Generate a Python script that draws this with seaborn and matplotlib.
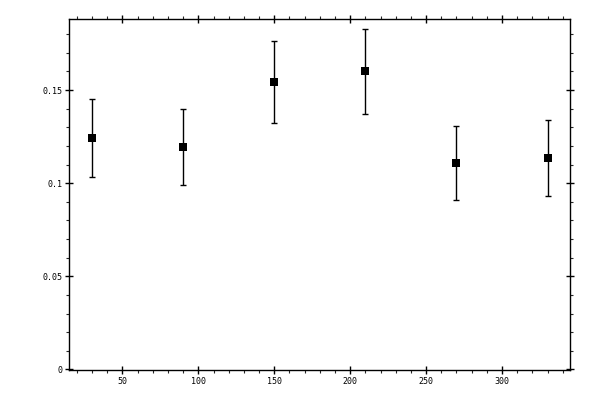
import numpy as np
import matplotlib
matplotlib.use("Agg")
import matplotlib.pyplot as plt
import seaborn as sns
from matplotlib.ticker import MultipleLocator, FormatStrFormatter

# Data
angles = [30, 90, 150, 210, 270, 330]
values = [0.1242, 0.1194, 0.1543, 0.1602, 0.1108, 0.1134]
errors = [0.0208, 0.0202, 0.0220, 0.0228, 0.0199, 0.0204]

sns.set_style("ticks")
plt.rcParams['font.family'] = ['DejaVu Sans Mono']

fig = plt.figure(figsize=(6, 4), dpi=100)
ax = fig.add_axes([0.1155, 0.0742, 0.835, 0.8776])

ax.errorbar(angles, values, yerr=errors, fmt='none', ecolor='black',
            elinewidth=1, capsize=2.5, capthick=1)
sns.scatterplot(x=angles, y=values, marker='s', s=30, color='black',
                edgecolor='black', linewidth=0, ax=ax, zorder=3)

ax.set_xlim(15, 345)
ax.set_ylim(-0.0005, 0.188)
ax.xaxis.set_major_locator(MultipleLocator(50))
ax.xaxis.set_minor_locator(MultipleLocator(10))
ax.yaxis.set_major_locator(MultipleLocator(0.05))
ax.yaxis.set_minor_locator(MultipleLocator(0.01))
ax.yaxis.set_major_formatter(FormatStrFormatter('%g'))

for side in ['top', 'bottom', 'left', 'right']:
    ax.spines[side].set_visible(True)
    ax.spines[side].set_linewidth(1)
    ax.spines[side].set_color('black')

ax.tick_params(which='major', direction='inout', length=6, width=1,
               top=True, right=True, labelsize=6, colors='black', pad=2)
ax.tick_params(which='minor', direction='out', length=2.5, width=0.8,
               top=True, right=True)
ax.set_xlabel('')
ax.set_ylabel('')

fig.savefig('out.png', dpi=100)
